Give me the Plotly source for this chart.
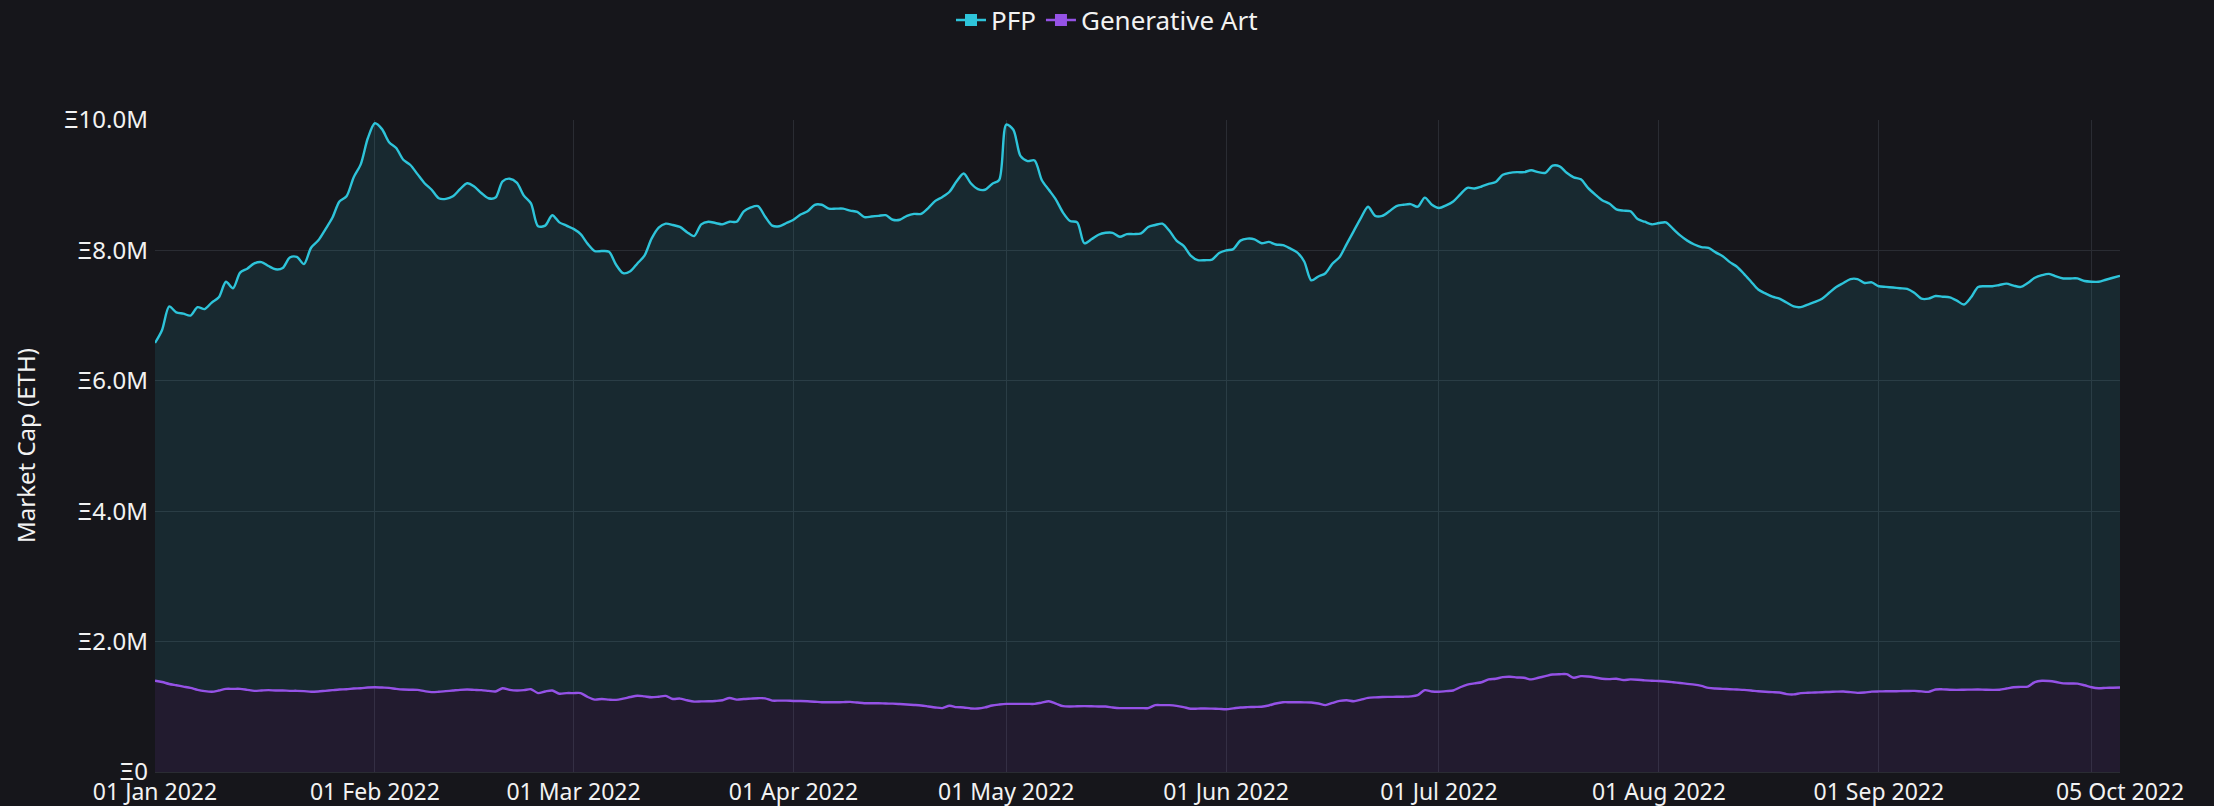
import pandas as pd
import plotly.graph_objects as go

start_date = "2022-01-01"

pfp_m = [
6.58,6.78,7.14,7.05,7.03,7.00,7.13,7.10,7.20,7.28,
7.52,7.42,7.66,7.72,7.80,7.82,7.76,7.71,7.73,7.89,
7.90,7.79,8.04,8.15,8.32,8.50,8.75,8.83,9.12,9.32,
9.72,9.95,9.86,9.66,9.57,9.39,9.31,9.17,9.03,8.93,
8.80,8.79,8.83,8.94,9.03,8.98,8.88,8.80,8.81,9.06,
9.10,9.04,8.84,8.72,8.37,8.38,8.54,8.43,8.38,8.33,
8.25,8.10,7.99,7.99,7.98,7.78,7.65,7.68,7.80,7.92,
8.18,8.35,8.41,8.39,8.36,8.28,8.22,8.40,8.44,8.42,
8.40,8.44,8.44,8.60,8.66,8.68,8.52,8.38,8.37,8.42,
8.47,8.55,8.60,8.70,8.70,8.64,8.64,8.64,8.61,8.59,
8.51,8.52,8.53,8.54,8.47,8.47,8.53,8.56,8.56,8.65,
8.76,8.82,8.90,9.06,9.18,9.03,8.94,8.93,9.02,9.08,
9.93,9.85,9.45,9.37,9.38,9.08,8.93,8.78,8.58,8.45,
8.43,8.11,8.17,8.24,8.27,8.27,8.21,8.25,8.25,8.26,
8.36,8.39,8.41,8.30,8.15,8.07,7.92,7.85,7.85,7.86,
7.96,8.00,8.02,8.15,8.18,8.17,8.11,8.13,8.09,8.08,
8.03,7.97,7.83,7.54,7.60,7.65,7.80,7.90,8.10,8.30,
8.50,8.67,8.53,8.53,8.60,8.68,8.70,8.71,8.67,8.81,
8.70,8.65,8.69,8.75,8.86,8.96,8.95,8.98,9.02,9.05,
9.16,9.19,9.20,9.20,9.23,9.20,9.19,9.30,9.29,9.19,
9.12,9.09,8.96,8.86,8.77,8.72,8.63,8.61,8.60,8.48,
8.44,8.40,8.42,8.43,8.33,8.23,8.15,8.09,8.05,8.04,
7.97,7.91,7.82,7.75,7.64,7.52,7.40,7.34,7.29,7.26,
7.20,7.14,7.13,7.17,7.21,7.26,7.35,7.44,7.50,7.56,
7.56,7.50,7.51,7.45,7.44,7.43,7.42,7.41,7.35,7.26,
7.26,7.30,7.29,7.28,7.23,7.17,7.28,7.44,7.45,7.45,
7.47,7.49,7.46,7.44,7.50,7.58,7.62,7.64,7.60,7.57,
7.57,7.57,7.53,7.52,7.52,7.55,7.58,7.61,
]

genart_m = [
1.40,1.38,1.35,1.33,1.31,1.29,1.26,1.24,1.23,1.25,
1.275,1.275,1.275,1.26,1.245,1.25,1.255,1.25,1.25,1.245,
1.245,1.24,1.23,1.235,1.245,1.255,1.265,1.27,1.28,1.285,
1.295,1.30,1.295,1.29,1.275,1.265,1.262,1.26,1.24,1.225,
1.23,1.24,1.25,1.26,1.265,1.26,1.255,1.245,1.235,1.285,
1.26,1.25,1.255,1.27,1.21,1.235,1.25,1.20,1.21,1.21,
1.21,1.15,1.11,1.12,1.11,1.106,1.125,1.15,1.17,1.16,
1.147,1.155,1.167,1.12,1.126,1.10,1.08,1.083,1.085,1.09,
1.10,1.136,1.11,1.12,1.126,1.132,1.13,1.095,1.095,1.095,
1.09,1.088,1.085,1.078,1.07,1.07,1.07,1.072,1.075,1.065,
1.055,1.055,1.055,1.05,1.048,1.042,1.035,1.028,1.02,1.005,
0.99,0.98,1.015,0.995,0.99,0.975,0.974,0.99,1.02,1.035,
1.045,1.045,1.045,1.045,1.045,1.065,1.085,1.05,1.01,1.004,
1.008,1.01,1.008,1.005,1.004,0.99,0.98,0.98,0.98,0.98,
0.98,1.025,1.025,1.025,1.015,0.995,0.97,0.972,0.975,0.972,
0.968,0.962,0.975,0.99,0.995,0.998,1.00,1.02,1.05,1.07,
1.07,1.07,1.068,1.065,1.05,1.025,1.06,1.09,1.10,1.085,
1.11,1.136,1.145,1.15,1.152,1.154,1.155,1.16,1.18,1.255,
1.235,1.23,1.24,1.25,1.30,1.34,1.36,1.377,1.42,1.43,
1.455,1.46,1.45,1.445,1.42,1.445,1.47,1.495,1.50,1.50,
1.445,1.47,1.465,1.45,1.43,1.425,1.43,1.41,1.42,1.415,
1.405,1.40,1.395,1.388,1.377,1.365,1.352,1.34,1.32,1.29,
1.28,1.275,1.27,1.265,1.26,1.25,1.238,1.23,1.225,1.22,
1.195,1.19,1.21,1.215,1.22,1.224,1.228,1.232,1.234,1.225,
1.214,1.22,1.232,1.236,1.238,1.239,1.24,1.243,1.244,1.236,
1.229,1.265,1.268,1.262,1.26,1.262,1.264,1.265,1.262,1.26,
1.262,1.28,1.30,1.305,1.31,1.38,1.40,1.395,1.38,1.36,
1.357,1.355,1.33,1.30,1.285,1.29,1.293,1.295,
]

x_tick_dates = ["2022-01-01","2022-02-01","2022-03-01","2022-04-01","2022-05-01",
                "2022-06-01","2022-07-01","2022-08-01","2022-09-01","2022-10-01","2022-10-05"]
x_tick_labels = ["01 Jan 2022","01 Feb 2022","01 Mar 2022","01 Apr 2022","01 May 2022",
                 "01 Jun 2022","01 Jul 2022","01 Aug 2022","01 Sep 2022","","05 Oct 2022"]
y_tick_vals = [0, 2e6, 4e6, 6e6, 8e6, 10e6]
y_tick_labels = ["Ξ0", "Ξ2.0M", "Ξ4.0M", "Ξ6.0M", "Ξ8.0M", "Ξ10.0M"]

n = len(pfp_m)
dates = pd.date_range(start_date, periods=n, freq="D")
pfp = [v * 1e6 for v in pfp_m]
genart = [v * 1e6 for v in genart_m[:n]]

PFP_COLOR = "#2ec4da"
GA_COLOR = "#9552e6"
BG = "#16161b"
GRID = "#2a2c33"
TXT = "#f2f2f2"
FONT = "Noto Sans"

L, R, T, B = 155, 94, 120, 34
W, H = 2214, 806

fig = go.Figure()
fig.add_trace(go.Scatter(
    x=dates, y=genart, name="Generative Art", mode="lines",
    line=dict(color=GA_COLOR, width=2.4, shape="spline", smoothing=0.8),
    fill="tozeroy", fillcolor="rgba(150,80,230,0.10)", showlegend=False))
fig.add_trace(go.Scatter(
    x=dates, y=pfp, name="PFP", mode="lines",
    line=dict(color=PFP_COLOR, width=2.4, shape="spline", smoothing=0.8),
    fill="tonexty", fillcolor="rgba(45,196,218,0.11)", showlegend=False))

# legend entries
fig.add_trace(go.Scatter(x=[None], y=[None], name="PFP", mode="lines+markers",
                         line=dict(color=PFP_COLOR, width=2.4),
                         marker=dict(symbol="square", size=12, color=PFP_COLOR)))
fig.add_trace(go.Scatter(x=[None], y=[None], name="Generative Art", mode="lines+markers",
                         line=dict(color=GA_COLOR, width=2.4),
                         marker=dict(symbol="square", size=12, color=GA_COLOR)))

fig.update_layout(
    width=W, height=H,
    paper_bgcolor=BG, plot_bgcolor=BG,
    margin=dict(l=L, r=R, t=T, b=B, autoexpand=False),
    font=dict(family=FONT, size=24, color=TXT),
    showlegend=True,
    legend=dict(orientation="h", xref="container", x=0.5, xanchor="center",
                yref="container", y=0.975, yanchor="middle",
                font=dict(size=26, color=TXT),
                bgcolor="rgba(0,0,0,0)", traceorder="normal", itemwidth=30),
    xaxis=dict(
        type="date", range=["2022-01-01", "2022-10-05"],
        tickvals=x_tick_dates, ticktext=x_tick_labels,
        showgrid=True, gridcolor=GRID, gridwidth=1,
        showline=True, linecolor=GRID, zeroline=False, ticks="",
        tickfont=dict(size=23, color=TXT), automargin=False,
        ticklabelstandoff=-1,
    ),
    yaxis=dict(
        range=[0, 10e6], tickvals=y_tick_vals, ticktext=y_tick_labels,
        showgrid=True, gridcolor=GRID, gridwidth=1, zeroline=False,
        showline=False, ticks="", automargin=False,
        tickfont=dict(size=24, color=TXT), ticklabelstandoff=6,
    ),
    annotations=[dict(
        text="Market Cap (ETH)", textangle=-90, showarrow=False,
        xref="paper", yref="paper", x=(25 - L) / (W - L - R), y=0.5,
        xanchor="center", yanchor="middle",
        font=dict(size=24, color=TXT))],
)

fig.write_html(
    "out.html",
    config={"displayModeBar": False},
    post_script="document.body.style.margin='0';document.body.style.overflow='hidden';"
                "document.body.style.background='" + BG + "';",
)
